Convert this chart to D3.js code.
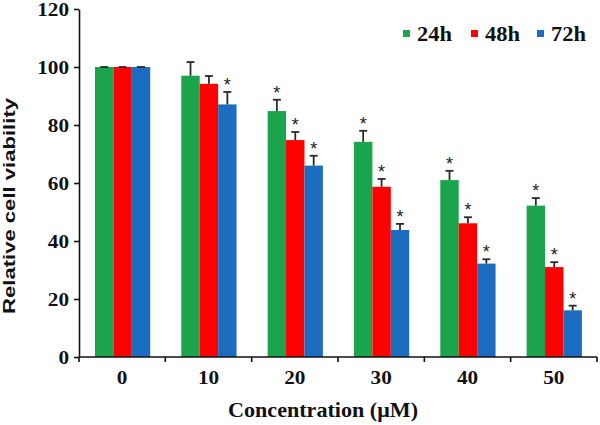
<!DOCTYPE html>
<html>
<head>
<meta charset="utf-8">
<script src="https://cdn.jsdelivr.net/npm/d3@7"></script>
<style>
  html, body { margin: 0; padding: 0; background: #fff; }
  svg { display: block; }
</style>
</head>
<body>
<svg id="chart" width="600" height="425"></svg>
<script>
// ---- data ----
const categories = ["0", "10", "20", "30", "40", "50"];
const series = ["24h", "48h", "72h"];
const values24 = [100, 97, 84.8, 74.2, 61, 52.2];
const values48 = [100, 94.2, 74.8, 58.7, 46.1, 31];
const values72 = [100, 87.1, 66, 43.8, 32.2, 16.1];
const errors24 = [0, 4.7, 3.9, 3.8, 3.2, 2.6];
const errors48 = [0, 2.7, 2.8, 2.7, 2.1, 1.7];
const errors72 = [0, 4.3, 3.4, 2.1, 1.5, 1.6];
const signif24 = [false, false, true, true, true, true];
const signif48 = [false, false, true, true, true, true];
const signif72 = [false, true, true, true, true, true];
const yTicks = [0, 20, 40, 60, 80, 100, 120];
const colors = ["#1ba44c", "#fe0000", "#1c6dc0"];

const valueSets = [values24, values48, values72];
const errorSets = [errors24, errors48, errors72];
const signifSets = [signif24, signif48, signif72];

const rows = [];
categories.forEach((c, i) => {
  series.forEach((s, j) => {
    rows.push({cat: c, ser: s, v: valueSets[j][i], e: errorSets[j][i], sig: signifSets[j][i], color: colors[j]});
  });
});

const svg = d3.select("#chart");
const mLeft = 79, mRight = 597, mTop = 9, mBottom = 357;

const x0 = d3.scaleBand().domain(categories).range([mLeft, mRight]).padding(0);
const bw = x0.bandwidth();
const x1 = d3.scaleBand().domain(series).range([bw * 0.185, bw * 0.825]).padding(0);
const y = d3.scaleLinear().domain([0, 120]).range([mBottom, mTop]);

const serif = "'Liberation Serif', 'Times New Roman', serif";
const sans = "'Liberation Sans', Arial, sans-serif";
const digitW = 10.6;

// bars
const g = svg.append("g");
g.selectAll("rect.bar").data(rows).enter().append("rect")
  .attr("class", "bar")
  .attr("x", d => x0(d.cat) + x1(d.ser))
  .attr("y", d => y(d.v))
  .attr("width", x1.bandwidth())
  .attr("height", d => y(0) - y(d.v))
  .attr("fill", d => d.color);

// error bars
const eb = g.selectAll("g.err").data(rows).enter().append("g").attr("class", "err");
eb.append("line")
  .attr("x1", d => x0(d.cat) + x1(d.ser) + x1.bandwidth() / 2)
  .attr("x2", d => x0(d.cat) + x1(d.ser) + x1.bandwidth() / 2)
  .attr("y1", d => y(d.v))
  .attr("y2", d => y(d.v + d.e))
  .attr("stroke", "#2b2b2b").attr("stroke-width", 1.8);
eb.append("line")
  .attr("x1", d => x0(d.cat) + x1(d.ser) + x1.bandwidth() / 2 - 4)
  .attr("x2", d => x0(d.cat) + x1(d.ser) + x1.bandwidth() / 2 + 4)
  .attr("y1", d => y(d.v + d.e))
  .attr("y2", d => y(d.v + d.e))
  .attr("stroke", "#2b2b2b").attr("stroke-width", 1.8);

// asterisks
g.selectAll("text.star").data(rows.filter(d => d.sig)).enter().append("text")
  .attr("class", "star")
  .attr("x", d => x0(d.cat) + x1(d.ser) + x1.bandwidth() / 2)
  .attr("y", d => y(d.v + d.e) - 1)
  .attr("text-anchor", "middle")
  .attr("font-family", sans)
  .attr("font-size", 18)
  .attr("fill", "#222")
  .text("*");

// y axis
const yAxis = d3.axisLeft(y).tickValues(yTicks).tickSize(5).tickPadding(5).tickSizeOuter(0);
const ya = svg.append("g").attr("transform", `translate(${mLeft},0)`).call(yAxis);
ya.select(".domain").attr("stroke", "#111").attr("stroke-width", 1.6);
ya.selectAll(".tick line").attr("stroke", "#111").attr("stroke-width", 1.6);
ya.selectAll(".tick text")
  .attr("font-family", serif).attr("font-weight", "bold").attr("font-size", 19).attr("fill", "#111")
  .attr("textLength", d => String(d).length * digitW).attr("lengthAdjust", "spacingAndGlyphs");

// x axis: ticks at band boundaries
const xa = svg.append("g").attr("transform", `translate(0,${mBottom})`);
xa.append("line").attr("x1", mLeft).attr("x2", mRight).attr("y1", 0).attr("y2", 0)
  .attr("stroke", "#111").attr("stroke-width", 1.6);
const bounds = categories.map(c => x0(c)).concat([mRight]);
xa.selectAll("line.tk").data(bounds).enter().append("line")
  .attr("class", "tk")
  .attr("x1", d => d).attr("x2", d => d).attr("y1", 0).attr("y2", 5)
  .attr("stroke", "#111").attr("stroke-width", 1.6);
xa.selectAll("text.lbl").data(categories).enter().append("text")
  .attr("class", "lbl")
  .attr("x", d => x0(d) + bw / 2)
  .attr("y", 27)
  .attr("text-anchor", "middle")
  .attr("font-family", serif).attr("font-weight", "bold").attr("font-size", 19).attr("fill", "#111")
  .attr("textLength", d => d.length * digitW).attr("lengthAdjust", "spacingAndGlyphs")
  .text(d => d);

// axis titles
svg.append("text")
  .attr("x", 323).attr("y", 417)
  .attr("text-anchor", "middle")
  .attr("font-family", serif).attr("font-weight", "bold").attr("font-size", 21).attr("fill", "#111")
  .attr("textLength", 190).attr("lengthAdjust", "spacingAndGlyphs")
  .text("Concentration (μM)");
svg.append("text")
  .attr("transform", "translate(15,206) rotate(-90)")
  .attr("text-anchor", "middle")
  .attr("font-family", sans).attr("font-weight", "bold").attr("font-size", 17).attr("fill", "#111")
  .attr("textLength", 216).attr("lengthAdjust", "spacingAndGlyphs")
  .text("Relative cell viability");

// legend
const legX = [403, 471, 537];
const leg = svg.selectAll("g.leg").data(series).enter().append("g").attr("class", "leg")
  .attr("transform", (d, i) => `translate(${legX[i]},30)`);
leg.append("rect").attr("width", 7).attr("height", 7).attr("fill", (d, i) => colors[i]);
leg.append("text").attr("x", 14).attr("y", 11)
  .attr("font-family", serif).attr("font-weight", "bold").attr("font-size", 20).attr("fill", "#111")
  .attr("textLength", 35).attr("lengthAdjust", "spacingAndGlyphs")
  .text(d => d);
</script>
</body>
</html>
